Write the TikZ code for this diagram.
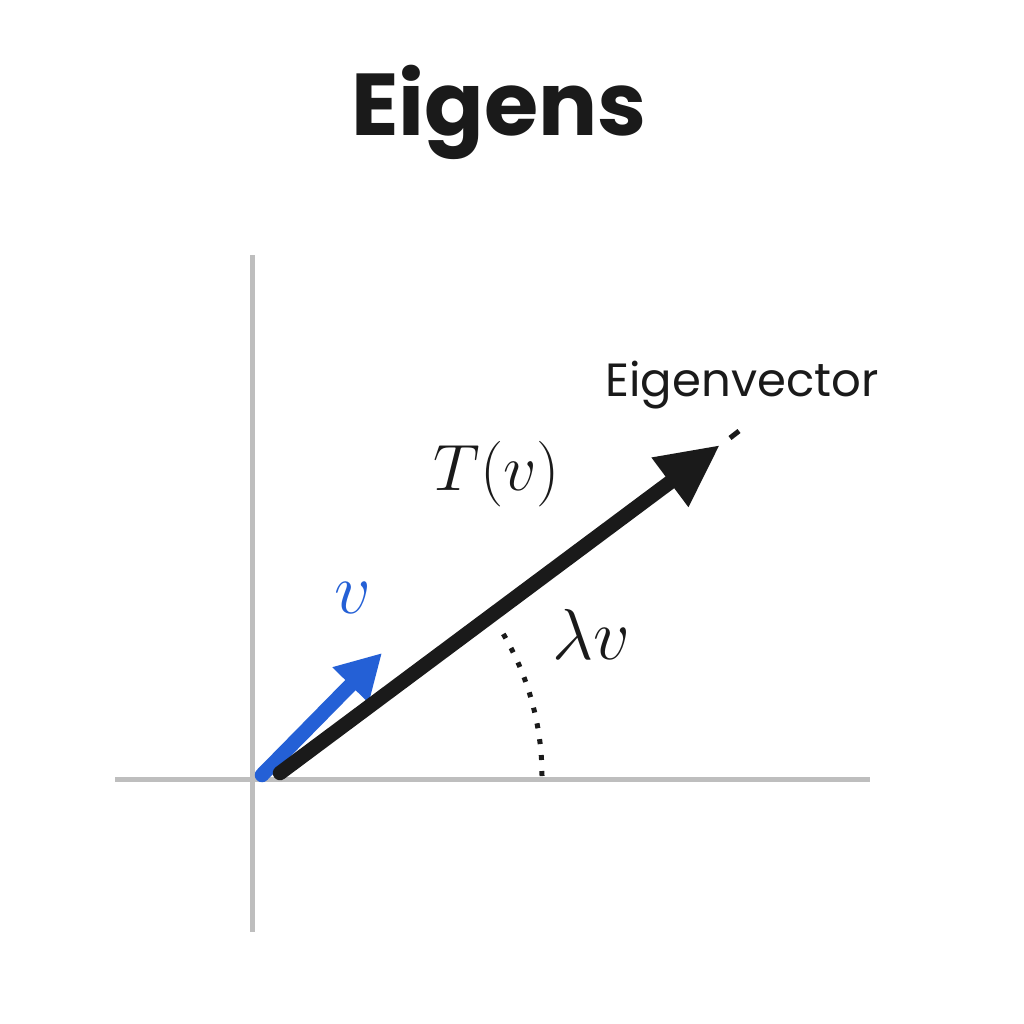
\documentclass[tikz,border=0pt]{standalone}
\usepackage{fontspec}
\setmainfont{Poppins}
\usetikzlibrary{arrows.meta}
\definecolor{axisgray}{RGB}{190,190,190}
\definecolor{vecblue}{RGB}{36,96,214}
\definecolor{inkblack}{RGB}{26,26,26}
\newcommand{\mathlbl}[2]{\scalebox{#1}{\Huge$#2$}}
\tikzset{
  axis/.style={draw=axisgray, line width=0.1cm},
  vecarrow/.style={line width=0.29cm, line cap=round},
  lbl/.style={inner sep=0pt}
}
\begin{document}
\begin{tikzpicture}[x=0.02cm, y=-0.02cm]
\useasboundingbox[fill=white] (0,0) rectangle (1024,1024);
\node[lbl, font=\bfseries\fontsize{50}{56}\selectfont, text=inkblack] (title) at (499,112) {Eigens};
% axes
\coordinate (ytop) at (252,255);
\coordinate (ybot) at (252,932);
\coordinate (xleft) at (115,779);
\coordinate (xright) at (870,779);
\draw[axis] (ytop) -- (ybot);
\draw[axis] (xleft) -- (xright);
% vectors
\coordinate (o) at (262,775);
\coordinate (vtip) at (382,653);
\coordinate (tstart) at (280,773);
\coordinate (ttip) at (720,445);
\coordinate (dashA) at (730,438);
\coordinate (dashB) at (739,431);
\draw[vecarrow, draw=vecblue, -{Triangle[length=0.9cm, width=0.95cm]}, vecblue] (o) -- (vtip);
\draw[vecarrow, draw=inkblack, -{Triangle[length=1.25cm, width=1.15cm]}, inkblack] (tstart) -- (ttip);
\draw[inkblack, line width=0.1cm] (dashA) -- (dashB);
% angle
\draw[inkblack, line width=0.1cm, dash pattern=on 0.1cm off 0.22cm] (542,776) arc[start angle=0, end angle=-31, radius=280];
% labels
\node[lbl, text=vecblue] (vlab) at (353,598) {\mathlbl{1.65}{v}};
\node[lbl, text=inkblack] (tvlab) at (497,474) {\mathlbl{1.5}{T(v)}};
\node[lbl, text=inkblack] (lvlab) at (591,634) {\mathlbl{1.65}{\lambda v}};
\node[lbl, font=\fontsize{26.5}{30}\selectfont, text=inkblack] (eig) at (742,385) {Eigenvector};
\end{tikzpicture}
\end{document}
